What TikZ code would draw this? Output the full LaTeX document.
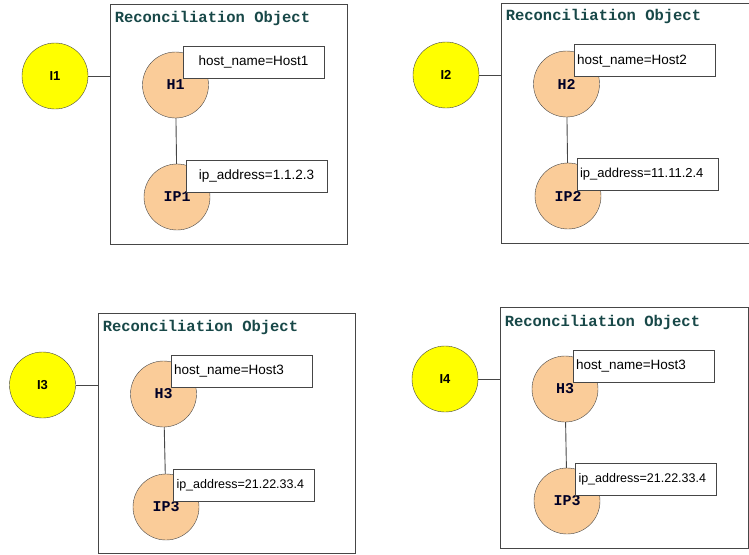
\documentclass[tikz,border=0pt]{standalone}
\usepackage{fontspec}
\setmainfont{Liberation Sans}
\setmonofont{Liberation Mono}
\definecolor{instyellow}{RGB}{255,255,0}
\definecolor{objpeach}{RGB}{250,204,153}
\definecolor{titleteal}{RGB}{24,72,72}
\definecolor{edgegray}{RGB}{70,70,70}
\usetikzlibrary{calc}

\begin{document}
\begin{tikzpicture}[x=1pt, y=-1pt,
  frame/.style={draw=edgegray, line width=0.9pt, inner sep=0pt},
  otitle/.style={anchor=base west, inner sep=0pt, text=titleteal,
    font=\ttfamily\bfseries\fontsize{15.5}{15.5}\selectfont},
  instc/.style={circle, draw=edgegray, fill=instyellow, minimum size=66pt,
    inner sep=0pt, font=\bfseries\fontsize{13}{13}\selectfont},
  objc/.style={circle, draw=edgegray, fill=objpeach, minimum size=66pt,
    inner sep=0pt, text=black!85!blue, font=\ttfamily\bfseries\fontsize{15}{15}\selectfont},
  valbox/.style={draw=edgegray, fill=white, minimum width=141pt, minimum height=32pt,
    text width=135pt, inner xsep=3pt, align=left, font=\fontsize{#1}{#1}\selectfont},
  valbox/.default=13.5,
  link/.style={draw=edgegray, line width=0.9pt},
]
\useasboundingbox (0,0) rectangle (749,554);

% Panel 1
\node[frame, minimum width=237pt, minimum height=240pt] (f1) at (228.5,124) {};
\node[otitle] (t1) at ($(f1.north west)+(5,19)$) {Reconciliation Object};
\node[instc] (i1) at (55,76) {I1};
\node[objc] (h1) at (175.5,85) {H1};
\node[objc] (ip1) at (177,197) {IP1};
\node[valbox, align=center] (v1a) at (253.5,62) {host\_name=Host1};
\node[valbox, align=center] (v1b) at (256.5,176) {ip\_address=1.1.2.3};
\draw[link] (i1) -- (i1 -| f1.west);
\draw[link] (h1) -- (ip1);

% Panel 2
\node[frame, minimum width=248pt, minimum height=240pt] (f2) at (625,123) {};
\node[otitle] (t2) at ($(f2.north west)+(5,18)$) {Reconciliation Object};
\node[instc] (i2) at (446,75) {I2};
\node[objc] (h2) at (566.5,84) {H2};
\node[objc] (ip2) at (568,196) {IP2};
\node[valbox] (v2a) at (644.5,60.5) {host\_name=Host2};
\node[valbox=13] (v2b) at (647.5,174.5) {ip\_address=11.11.2.4};
\draw[link] (i2) -- (i2 -| f2.west);
\draw[link] (h2) -- (ip2);

% Panel 3
\node[frame, minimum width=257pt, minimum height=240pt] (f3) at (226.5,433) {};
\node[otitle] (t3) at ($(f3.north west)+(5,19)$) {Reconciliation Object};
\node[instc] (i3) at (42.5,385) {I3};
\node[objc] (h3) at (163.5,394) {H3};
\node[objc] (ip3) at (166,507) {IP3};
\node[valbox] (v3a) at (241.5,371) {host\_name=Host3};
\node[valbox=12.5] (v3b) at (244,485) {ip\_address=21.22.33.4};
\draw[link] (i3) -- (i3 -| f3.west);
\draw[link] (h3) -- (ip3);

% Panel 4
\node[frame, minimum width=248pt, minimum height=241pt] (f4) at (624,427.5) {};
\node[otitle] (t4) at ($(f4.north west)+(5,20)$) {Reconciliation Object};
\node[instc] (i4) at (445,379) {I4};
\node[objc] (h4) at (565,389) {H3};
\node[objc] (ip4) at (567,501) {IP3};
\node[valbox] (v4a) at (643.5,366) {host\_name=Host3};
\node[valbox=12.5] (v4b) at (646,479) {ip\_address=21.22.33.4};
\draw[link] (i4) -- (i4 -| f4.west);
\draw[link] (h4) -- (ip4);
\end{tikzpicture}
\end{document}
